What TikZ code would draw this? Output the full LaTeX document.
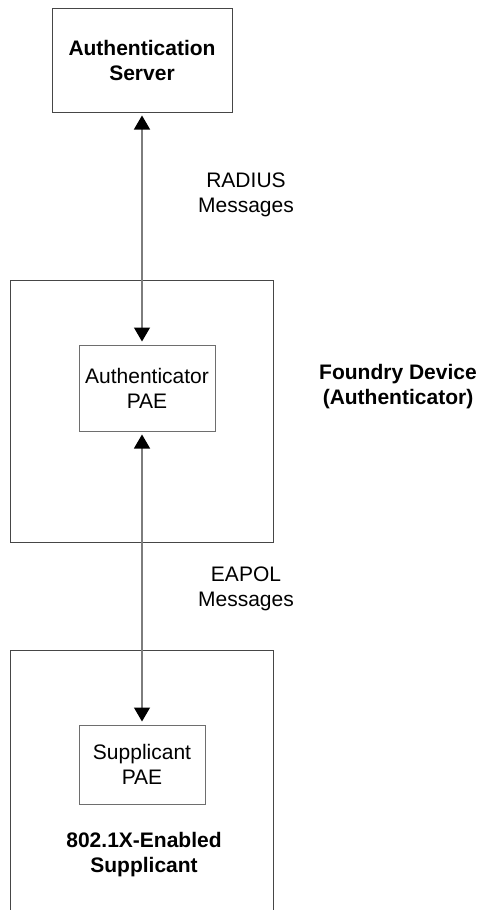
\documentclass[tikz,border=0pt]{standalone}
\usepackage{fontspec}
\setmainfont{Liberation Sans}
\usepackage{xcolor}
\definecolor{boxgray}{RGB}{70,70,70}
\definecolor{pagray}{RGB}{110,110,110}
\definecolor{linegray}{RGB}{125,125,125}
\usetikzlibrary{arrows.meta, positioning}

\begin{document}
\begin{tikzpicture}[x=0.5pt, y=-0.5pt,
    every node/.style={font=\fontsize{10.5}{12.5}\selectfont, align=center, inner sep=0pt},
    unitbox/.style={draw=boxgray, line width=0.5pt},
    paebox/.style={draw=pagray, line width=0.5pt},
    msgline/.style={linegray, line width=0.6pt, shorten <=1.5pt, shorten >=1.5pt,
      {Triangle[length=7pt, width=8pt, color=black]}-{Triangle[length=7pt, width=8pt, color=black]}}]

% page frame, the supplicant unit runs off its lower edge
\clip (0,0) rectangle (479,910);

% ===== AUTHENTICATION SERVER (Top) =====
\node[unitbox, minimum width=90pt, minimum height=52pt, font=\fontsize{10.5}{12.5}\selectfont\bfseries]
      (server) at (142,60) {Authentication\\Server};

% ===== AUTHENTICATOR (Middle) =====
\node[unitbox, minimum width=131.5pt, minimum height=131pt] (device) at (141.5,411) {};
\node[paebox, minimum width=68pt, minimum height=43pt] (authpae) at (147,388) {Authenticator\\PAE};
\node[font=\fontsize{10.5}{12.5}\selectfont\bfseries] (devlabel) at (398,387) {Foundry Device\\(Authenticator)};

% ===== SUPPLICANT (Bottom) =====
\node[unitbox, minimum width=131.5pt, minimum height=140pt] (supp) at (141.5,790) {};
\node[paebox, minimum width=63pt, minimum height=39.5pt] (supppae) at (142,764.5) {Supplicant\\PAE};
\node[font=\fontsize{10.5}{12.5}\selectfont\bfseries] (supplabel) at (144,855) {802.1X-Enabled\\Supplicant};

% Message exchanges
\draw[msgline] (server.south -| 142,0) -- (authpae.north -| 142,0);
\node (radius) at (246,195) {RADIUS\\Messages};

\draw[msgline] (authpae.south -| 142,0) -- (supppae.north -| 142,0);
\node (eapol) at (246,589) {EAPOL\\Messages};

\end{tikzpicture}
\end{document}
